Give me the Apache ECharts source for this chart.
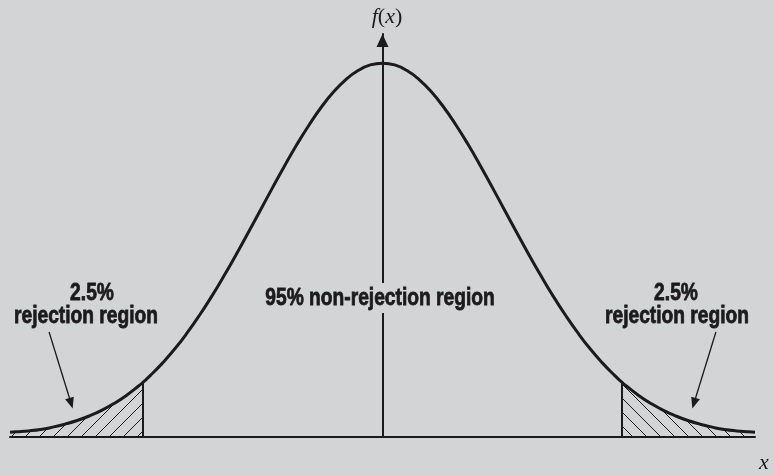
<!DOCTYPE html>
<html>
<head>
<meta charset="utf-8">
<script src="https://cdn.jsdelivr.net/npm/echarts@6/dist/echarts.min.js"></script>
<style>
  html, body { margin: 0; padding: 0; background: #d3d4d6; }
  #chart { width: 773px; height: 475px; }
</style>
</head>
<body>
<div id="chart"></div>
<script>
// curve (x in std units, height = density)
var curveX = [-3.05, -3.0, -2.9, -2.8, -2.7, -2.6, -2.5, -2.4, -2.3, -2.2, -2.1, -2.0, -1.96,
              -1.9, -1.8, -1.7, -1.6, -1.5, -1.4, -1.3, -1.2, -1.1, -1.0,
              -0.9, -0.8, -0.7, -0.6, -0.5, -0.4, -0.3, -0.2, -0.1, 0,
              0.1, 0.2, 0.3, 0.4, 0.5, 0.6, 0.7, 0.8, 0.9, 1.0,
              1.1, 1.2, 1.3, 1.4, 1.5, 1.6, 1.7, 1.8, 1.9,
              1.96, 2.0, 2.1, 2.2, 2.3, 2.4, 2.5, 2.6, 2.7, 2.8, 2.9, 3.0, 3.05];
var curveY = [0.005, 0.0055, 0.0065, 0.008, 0.0105, 0.0137, 0.0176, 0.0225, 0.0284, 0.0356, 0.0441, 0.0541, 0.0585,
              0.0657, 0.0791, 0.0941, 0.1110, 0.1296, 0.1498, 0.1715, 0.1943, 0.2180, 0.2420,
              0.2661, 0.2897, 0.3123, 0.3332, 0.3521, 0.3683, 0.3814, 0.3910, 0.3970, 0.3989,
              0.3970, 0.3910, 0.3814, 0.3683, 0.3521, 0.3332, 0.3123, 0.2897, 0.2661, 0.2420,
              0.2180, 0.1943, 0.1715, 0.1498, 0.1296, 0.1110, 0.0941, 0.0791, 0.0657,
              0.0585, 0.0541, 0.0441, 0.0356, 0.0284, 0.0225, 0.0176, 0.0137, 0.0105, 0.008, 0.0065, 0.0055, 0.005];
var critical = [-1.96, 1.96];
var tailLabel = ['2.5%', 'rejection region'];
var centerLabel = '95% non-rejection region';

var BG = '#d3d4d6';
var INK = '#1c1a1b';

var curve = [];
for (var i = 0; i < curveX.length; i++) curve.push([curveX[i], curveY[i]]);
var leftTail = curve.filter(function (p) { return p[0] <= critical[0]; });
var rightTail = curve.filter(function (p) { return p[0] >= critical[1]; });
var critY = curve.filter(function (p) { return p[0] === critical[1]; })[0][1];

// hatch tiles
function hatch(dir) {
    var c = document.createElement('canvas');
    c.width = 14; c.height = 14;
    var g = c.getContext('2d');
    g.strokeStyle = INK;
    g.lineWidth = 1;
    g.beginPath();
    if (dir === '/') {
        g.moveTo(-2, 16); g.lineTo(16, -2);
    } else {
        g.moveTo(-2, -2); g.lineTo(16, 16);
    }
    g.stroke();
    return c;
}

var chart = echarts.init(document.getElementById('chart'));

var font = 'bold 24px "Liberation Sans", Arial, sans-serif';
var serif = '"Liberation Serif", "DejaVu Serif", serif';

function label(x, y, text, extra) {
    var st = { text: text, align: 'center', verticalAlign: 'middle', fill: INK, font: font,
               stroke: INK, lineWidth: 0.8 };
    if (extra) for (var k in extra) st[k] = extra[k];
    return { type: 'text', x: x, y: y, scaleX: 0.8, silent: true, z: 10, style: st };
}

var pointer = { width: 1.3 };

var option = {
    animation: false,
    backgroundColor: BG,
    grid: { left: 10, right: 18, top: 34, bottom: 38 },
    xAxis: {
        type: 'value', min: -3.05, max: 3.05,
        axisLine: { onZero: true, lineStyle: { color: INK, width: 2 } },
        axisTick: { show: false }, axisLabel: { show: false }, splitLine: { show: false }
    },
    yAxis: {
        type: 'value', min: 0, max: 0.43,
        axisLine: { onZero: true, symbol: ['none', 'triangle'], symbolSize: [12, 13], symbolOffset: [0, -6.5],
                    lineStyle: { color: INK, width: 2 } },
        axisTick: { show: false }, axisLabel: { show: false }, splitLine: { show: false }
    },
    series: [
        {
            type: 'line', data: leftTail, smooth: true, symbol: 'none', silent: true,
            lineStyle: { width: 0 },
            areaStyle: { color: { image: hatch('/'), repeat: 'repeat' }, opacity: 1 }
        },
        {
            type: 'line', data: rightTail, smooth: true, symbol: 'none', silent: true,
            lineStyle: { width: 0 },
            areaStyle: { color: { image: hatch('\\'), repeat: 'repeat' }, opacity: 1 }
        },
        {
            type: 'line', data: curve, smooth: true, symbol: 'none', silent: true,
            lineStyle: { color: INK, width: 3 },
            markLine: {
                silent: true, symbol: 'none', label: { show: false },
                lineStyle: { color: INK, width: 2, type: 'solid' },
                data: [
                    [{ coord: [critical[0], 0] }, { coord: [critical[0], critY] }],
                    [{ coord: [critical[1], 0] }, { coord: [critical[1], critY] }],
                    // pointers to the tails
                    [{ coord: [-2.73, 0.112], symbol: 'none', lineStyle: pointer },
                     { coord: [-2.55, 0.036], symbol: 'triangle', symbolSize: [9, 11], lineStyle: pointer }],
                    [{ coord: [2.73, 0.112], symbol: 'none', lineStyle: pointer },
                     { coord: [2.55, 0.036], symbol: 'triangle', symbolSize: [9, 11], lineStyle: pointer }]
                ]
            }
        }
    ],
    graphic: [
        { type: 'text', x: 387, y: 17, silent: true,
          style: { text: '{i|f}{r|(}{i|x}{r|)}', align: 'center', verticalAlign: 'middle',
                   rich: {
                       i: { fontFamily: serif, fontStyle: 'italic', fontSize: 22, fill: INK },
                       r: { fontFamily: serif, fontSize: 22, fill: INK }
                   } } },
        { type: 'text', x: 764, y: 463, silent: true,
          style: { text: 'x', align: 'center', verticalAlign: 'middle', fill: INK,
                   font: 'italic 22px ' + serif } },
        label(92, 293, tailLabel[0]),
        label(86, 316, tailLabel[1]),
        label(676, 293, tailLabel[0]),
        label(677, 316, tailLabel[1]),
        label(380, 298, centerLabel, { backgroundColor: BG, padding: [3, 2] })
    ]
};

chart.setOption(option);
</script>
</body>
</html>
